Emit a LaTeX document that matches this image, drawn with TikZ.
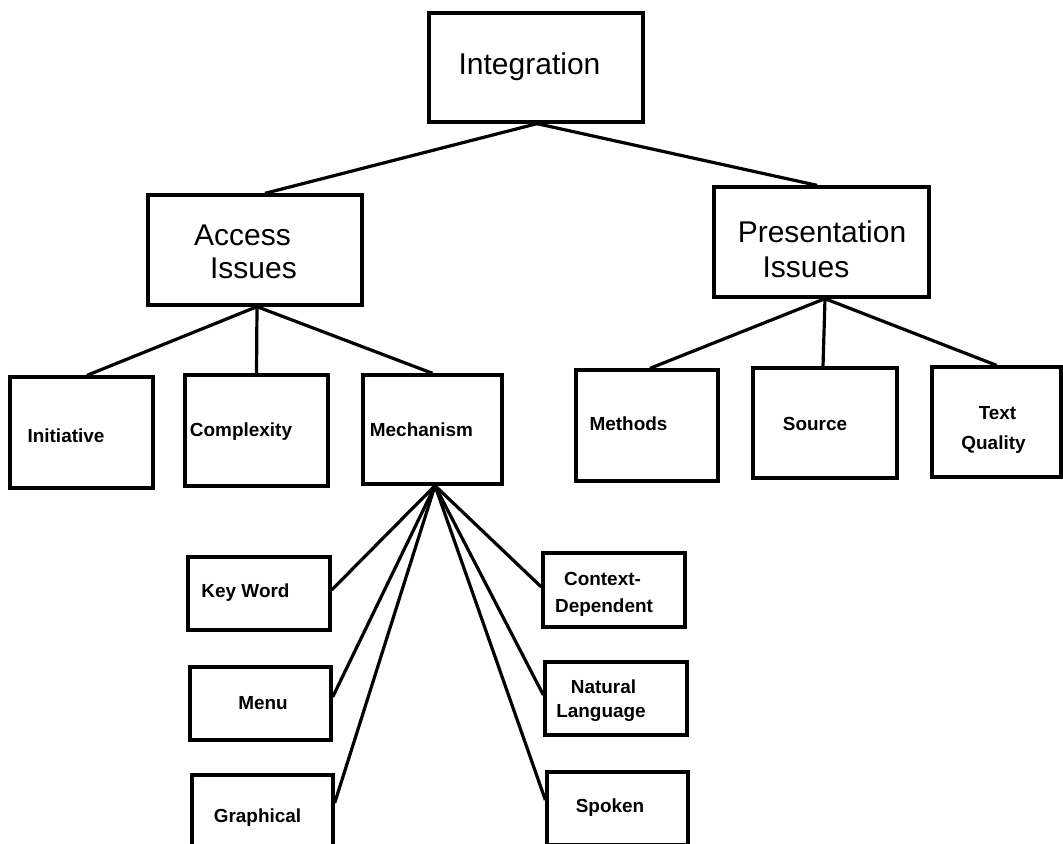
\documentclass[tikz,border=0pt]{standalone}
\usepackage{fontspec}
\setmainfont{Liberation Sans}
\begin{document}
\begin{tikzpicture}[x=0.75pt,y=-0.75pt,
  box/.style={draw=black,line width=2.5pt,rectangle,inner sep=0pt},
  big/.style={inner sep=0pt,font=\fontsize{22.5}{26}\selectfont},
  small/.style={inner sep=0pt,font=\bfseries\fontsize{14.2}{17}\selectfont,align=center},
  conn/.style={draw=black,line width=2.4pt}]
\useasboundingbox (0,0) rectangle (1063,843);
\fill[white] (0,0) rectangle (1063,843);
\clip (0,0) rectangle (1063,843);
% boxes
\node[box,minimum width=214*0.75pt,minimum height=109*0.75pt] (integ) at (536,67.5) {};
\node[box,minimum width=214*0.75pt,minimum height=110*0.75pt] (access) at (255,250) {};
\node[box,minimum width=215*0.75pt,minimum height=110*0.75pt] (pres) at (821.5,242) {};
\node[box,minimum width=143*0.75pt,minimum height=111*0.75pt] (init) at (81.5,432.5) {};
\node[box,minimum width=143*0.75pt,minimum height=111*0.75pt] (cplx) at (256.5,430.5) {};
\node[box,minimum width=139*0.75pt,minimum height=109*0.75pt] (mech) at (432.5,429.5) {};
\node[box,minimum width=142*0.75pt,minimum height=111*0.75pt] (meth) at (647,425.5) {};
\node[box,minimum width=144*0.75pt,minimum height=110*0.75pt] (src) at (825,423) {};
\node[box,minimum width=129*0.75pt,minimum height=110*0.75pt] (tq) at (996.5,422) {};
\node[box,minimum width=142*0.75pt,minimum height=73*0.75pt] (kw) at (259,593.5) {};
\node[box,minimum width=141*0.75pt,minimum height=73*0.75pt] (menu) at (260.5,703.5) {};
\node[box,minimum width=141*0.75pt,minimum height=73*0.75pt] (graph) at (262.5,811.5) {};
\node[box,minimum width=142*0.75pt,minimum height=74*0.75pt] (ctx) at (614,590) {};
\node[box,minimum width=142*0.75pt,minimum height=73*0.75pt] (nat) at (616,698.5) {};
\node[box,minimum width=141*0.75pt,minimum height=73*0.75pt] (spk) at (617.5,808.5) {};
% texts
\node[big] (tinteg) at (529.5,67) {Integration};
\node[big] (taccess1) at (242.5,235) {Access};
\node[big] (taccess2) at (253.5,268) {Issues};
\node[big] (tpres1) at (822,232) {Presentation};
\node[big] (tpres2) at (806,267) {Issues};
\node[small] (tinit) at (66,436) {Initiative};
\node[small] (tcplx) at (241,432) {Complexity};
\node[small] (tmech) at (421.5,430) {Mechanism};
\node[small] (tmeth) at (628.5,424) {Methods};
\node[small] (tsrc) at (815,424) {Source};
\node[small] (ttq1) at (997.5,413) {Text};
\node[small] (ttq2) at (993.5,445) {Quality};
\node[small] (tkw) at (245.5,593) {Key Word};
\node[small] (tmenu) at (263,703) {Menu};
\node[small] (tgraph) at (257.5,818) {Graphical};
\node[small] (tctx1) at (602.5,579) {Context-};
\node[small] (tctx2) at (604,608) {Dependent};
\node[small] (tnat1) at (603.5,687) {Natural};
\node[small] (tnat2) at (601,713) {Language};
\node[small] (tspk) at (610,808) {Spoken};
% connectors
\draw[conn] ([xshift=1*0.75pt]integ.south) -- ([xshift=10*0.75pt]access.north);
\draw[conn] ([xshift=1*0.75pt]integ.south) -- ([xshift=-4.5*0.75pt]pres.north);
\draw[conn] ([xshift=2*0.75pt]access.south) -- ([xshift=5.5*0.75pt]init.north);
\draw[conn] ([xshift=2*0.75pt]access.south) -- (cplx.north);
\draw[conn] ([xshift=2*0.75pt]access.south) -- (mech.north);
\draw[conn] ([xshift=3.5*0.75pt]pres.south) -- ([xshift=3*0.75pt]meth.north);
\draw[conn] ([xshift=3.5*0.75pt]pres.south) -- ([xshift=-2*0.75pt]src.north);
\draw[conn] ([xshift=3.5*0.75pt]pres.south) -- (tq.north);
\coordinate (fan) at ([xshift=2.5*0.75pt]mech.south);
\draw[conn] (fan) -- ([yshift=3.5*0.75pt]kw.east);
\draw[conn] (fan) -- ([yshift=6.5*0.75pt]menu.east);
\draw[conn] (fan) -- ([yshift=8.5*0.75pt]graph.east);
\draw[conn] (fan) -- ([yshift=3*0.75pt]ctx.west);
\draw[conn] (fan) -- ([yshift=3.5*0.75pt]nat.west);
\draw[conn] (fan) -- ([yshift=8.5*0.75pt]spk.west);
\end{tikzpicture}
\end{document}
